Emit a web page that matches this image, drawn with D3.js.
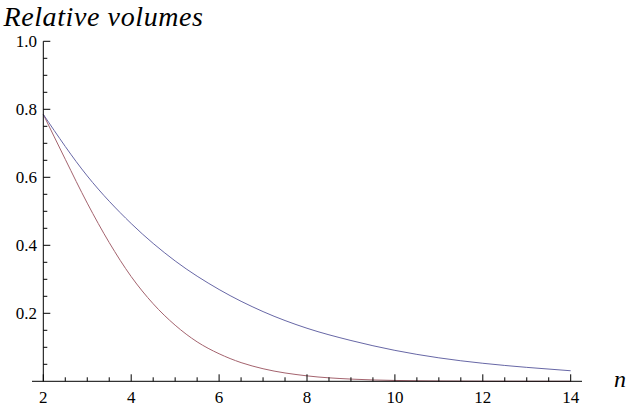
<!DOCTYPE html>
<html><head><meta charset="utf-8"><script src="https://cdn.jsdelivr.net/npm/d3@7"></script></head>
<body style="margin:0">
<svg id="chart" width="629" height="408"></svg>
<script>
// ---- data ----
const xTicks = [2, 4, 6, 8, 10, 12, 14];
const yTicks = [0.2, 0.4, 0.6, 0.8, 1.0];
const blueN = [2, 3, 4, 5, 6, 7, 8, 9, 10, 11, 12, 13, 14];
const blueV = [0.785, 0.604, 0.464, 0.354, 0.270, 0.205, 0.156, 0.120, 0.091, 0.069, 0.053, 0.041, 0.031];
const redN = [2, 2.5, 3, 3.5, 4, 4.5, 5, 5.5, 6, 6.5, 7, 8, 9, 10, 11, 12, 13, 14];
const redV = [0.785, 0.653, 0.524, 0.408, 0.308, 0.228, 0.165, 0.116, 0.081, 0.055, 0.037, 0.016, 0.0065, 0.0025, 0.0009, 0.0003, 0.0001, 0.00004];
const titleText = "Relative volumes";
const xLabelText = "n";

// ---- drawing ----
const FONT = "'Liberation Serif', 'Times New Roman', serif";
const svg = d3.select("#chart");
const x = d3.scaleLinear().domain([2, 14]).range([43.3, 570.7]);
const y = d3.scaleLinear().domain([0, 1]).range([381.3, 41.3]);

// curves
const line = d3.line().x(d => x(d[0])).y(d => y(d[1])).curve(d3.curveMonotoneX);
svg.append("path").datum(redN.map((n, i) => [n, redV[i]]))
  .attr("d", line).attr("fill", "none").attr("stroke", "#a4636e").attr("stroke-width", 1);
svg.append("path").datum(blueN.map((n, i) => [n, blueV[i]]))
  .attr("d", line).attr("fill", "none").attr("stroke", "#6767a6").attr("stroke-width", 1);

// axes lines
svg.append("line").attr("x1", 32).attr("x2", 582).attr("y1", y(0)).attr("y2", y(0))
  .attr("stroke", "#000").attr("stroke-width", 1);
svg.append("line").attr("x1", x(2)).attr("x2", x(2)).attr("y1", y(1)).attr("y2", y(0))
  .attr("stroke", "#000").attr("stroke-width", 1);

// x ticks (major + minor every 0.5)
const xMinor = d3.range(2, 14.001, 0.5);
svg.selectAll(".xt").data(xMinor).enter().append("line")
  .attr("x1", d => x(d)).attr("x2", d => x(d))
  .attr("y1", y(0)).attr("y2", d => y(0) - (Math.abs(d % 2) < 1e-6 ? 7 : 4))
  .attr("stroke", "#000").attr("stroke-width", 1);
svg.selectAll(".xl").data(xTicks).enter().append("text")
  .attr("x", d => x(d)).attr("y", 403)
  .attr("text-anchor", "middle")
  .attr("font-family", FONT).attr("font-size", 17)
  .text(d => d);

// y ticks (major + minor every 0.05)
const yMinor = d3.range(0.05, 1.0001, 0.05);
svg.selectAll(".yt").data(yMinor).enter().append("line")
  .attr("x1", x(2)).attr("x2", d => x(2) + (Math.abs(Math.round(d * 20) % 4) === 0 ? 7 : 4))
  .attr("y1", d => y(d)).attr("y2", d => y(d))
  .attr("stroke", "#000").attr("stroke-width", 1);
svg.selectAll(".yl").data(yTicks).enter().append("text")
  .attr("x", 37).attr("y", d => y(d) + 5.8)
  .attr("text-anchor", "end")
  .attr("font-family", FONT).attr("font-size", 17)
  .text(d => d.toFixed(1));

// title and axis label
svg.append("text").attr("x", 3.5).attr("y", 26)
  .attr("font-family", FONT).attr("font-style", "italic")
  .attr("font-size", 28).attr("letter-spacing", 0.6)
  .text(titleText);
svg.append("text").attr("x", 614).attr("y", 387)
  .attr("font-family", FONT).attr("font-style", "italic").attr("font-size", 24)
  .text(xLabelText);
</script></body></html>
